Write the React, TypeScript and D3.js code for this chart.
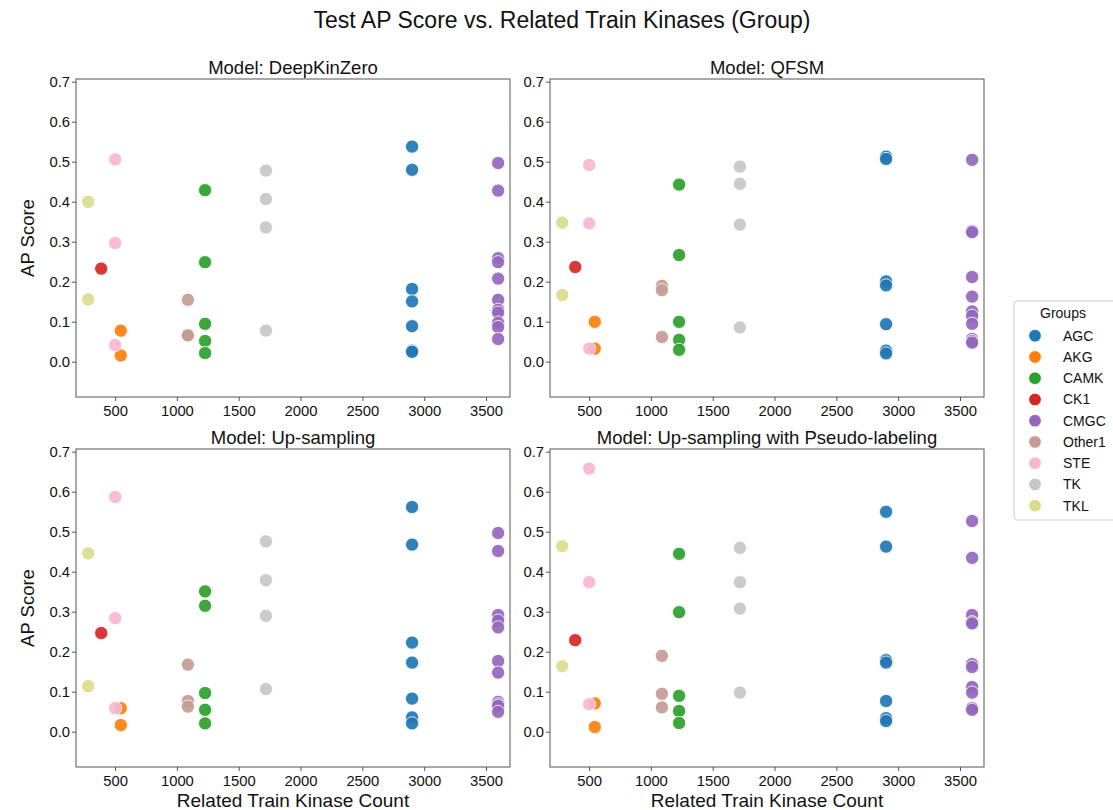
import React from "react";
import * as d3 from "d3";

// Kinase groups, their colours and the related train kinase count of each group
const groups = ["AGC", "AKG", "CAMK", "CK1", "CMGC", "Other1", "STE", "TK", "TKL"];
const groupColors = ["#1f77b4", "#ff7f0e", "#2ca02c", "#d62728", "#9467bd", "#c49c94", "#f7b6d2", "#c7c7c7", "#dbdb8d"];
const relatedCounts = [2898, 542, 1224, 384, 3594, 1085, 497, 1716, 279];

const models = ["DeepKinZero", "QFSM", "Up-sampling", "Up-sampling with Pseudo-labeling"];

// Test AP scores per group (same order as `groups`)
const deepKinZeroAP = [
  [0.539, 0.481, 0.183, 0.152, 0.09, 0.029, 0.026],
  [0.079, 0.017],
  [0.43, 0.25, 0.096, 0.053, 0.023],
  [0.234],
  [0.498, 0.429, 0.26, 0.25, 0.209, 0.156, 0.131, 0.124, 0.099, 0.088, 0.058],
  [0.156, 0.068, 0.067],
  [0.507, 0.298, 0.043],
  [0.479, 0.408, 0.337, 0.079],
  [0.401, 0.157],
];
const qfsmAP = [
  [0.514, 0.508, 0.202, 0.192, 0.095, 0.029, 0.022],
  [0.101, 0.034],
  [0.444, 0.268, 0.101, 0.056, 0.031],
  [0.238],
  [0.506, 0.328, 0.325, 0.213, 0.164, 0.127, 0.116, 0.096, 0.058, 0.053, 0.049],
  [0.191, 0.18, 0.063],
  [0.493, 0.347, 0.034],
  [0.489, 0.446, 0.344, 0.087],
  [0.349, 0.168],
];
const upSamplingAP = [
  [0.563, 0.469, 0.224, 0.174, 0.084, 0.037, 0.022],
  [0.06, 0.018],
  [0.352, 0.316, 0.098, 0.056, 0.022],
  [0.248],
  [0.498, 0.453, 0.293, 0.279, 0.262, 0.178, 0.149, 0.076, 0.07, 0.066, 0.051],
  [0.169, 0.078, 0.064],
  [0.588, 0.285, 0.06],
  [0.477, 0.38, 0.291, 0.108],
  [0.447, 0.115],
];
const pseudoLabelingAP = [
  [0.551, 0.464, 0.18, 0.174, 0.078, 0.035, 0.028],
  [0.072, 0.013],
  [0.446, 0.3, 0.091, 0.053, 0.023],
  [0.23],
  [0.528, 0.436, 0.293, 0.275, 0.272, 0.17, 0.163, 0.113, 0.099, 0.06, 0.056],
  [0.191, 0.096, 0.062],
  [0.659, 0.375, 0.07],
  [0.461, 0.375, 0.309, 0.099],
  [0.465, 0.165],
];
const modelScores = [deepKinZeroAP, qfsmAP, upSamplingAP, pseudoLabelingAP];

const xTicks = [500, 1000, 1500, 2000, 2500, 3000, 3500];
const yTicks = [0.0, 0.1, 0.2, 0.3, 0.4, 0.5, 0.6, 0.7];

const W = 1113;
const H = 810;
const FONT = "'Liberation Sans', Arial, Helvetica, sans-serif";
const panelW = 434;
const panelH = 318;
const panelLefts = [76, 550];
const panelTops = [79, 449];

const color = d3.scaleOrdinal<string, string>().domain(groups).range(groupColors);

function Panel({ idx }: { idx: number }) {
  const col = idx % 2;
  const row = Math.floor(idx / 2);
  const left = panelLefts[col];
  const top = panelTops[row];
  const x = d3.scaleLinear().domain([180, 3690]).range([left, left + panelW]);
  const y = d3.scaleLinear().domain([-0.087, 0.708]).range([top + panelH, top]);
  const scores = modelScores[idx];
  const points: { g: string; cx: number; cy: number }[] = [];
  groups.forEach((g, gi) => {
    scores[gi].forEach((v) => points.push({ g, cx: x(relatedCounts[gi]), cy: y(v) }));
  });
  const fmt = d3.format(".1f");
  return (
    <g>
      <text x={left + panelW / 2} y={top - 5} textAnchor="middle" fontSize={18.5} fill="#111">
        {`Model: ${models[idx]}`}
      </text>
      {points.map((p, i) => (
        <circle key={i} cx={p.cx} cy={p.cy} r={6.6} fill={color(p.g)} fillOpacity={0.92} stroke="#fff" strokeWidth={0.8} />
      ))}
      <rect x={left} y={top} width={panelW} height={panelH} fill="none" stroke="#555" strokeWidth={1} />
      {yTicks.map((t) => (
        <g key={t}>
          <line x1={left - 4} x2={left} y1={y(t)} y2={y(t)} stroke="#555" />
          <text x={left - 6} y={y(t)} dy="0.35em" textAnchor="end" fontSize={14.8} fill="#111">
            {fmt(t)}
          </text>
        </g>
      ))}
      {xTicks.map((t) => (
        <g key={t}>
          <line x1={x(t)} x2={x(t)} y1={top + panelH} y2={top + panelH + 4} stroke="#555" />
          <text x={x(t)} y={top + panelH + 19} textAnchor="middle" fontSize={14.8} fill="#111">
            {t}
          </text>
        </g>
      ))}
      {col === 0 && (
        <text
          transform={`translate(${left - 42},${top + panelH / 2}) rotate(-90)`}
          textAnchor="middle"
          fontSize={18.5}
          fill="#111"
        >
          AP Score
        </text>
      )}
      {row === 1 && (
        <text x={left + panelW / 2} y={H - 3} textAnchor="middle" fontSize={19} fill="#111">
          Related Train Kinase Count
        </text>
      )}
    </g>
  );
}

function Legend() {
  const lx = 1014;
  const ly = 301;
  const step = 21.25;
  return (
    <g>
      <rect x={lx} y={ly} width={110} height={219} rx={3} fill="#fff" stroke="#ccc" strokeWidth={1} />
      <text x={1063} y={313} dy="0.35em" textAnchor="middle" fontSize={14} fill="#111">
        Groups
      </text>
      {groups.map((g, i) => (
        <g key={g}>
          <circle cx={1035} cy={335.7 + i * step} r={6.3} fill={color(g)} stroke="#fff" strokeWidth={0.8} />
          <text x={1063} y={335.7 + i * step} dy="0.35em" fontSize={14} fill="#111">
            {g}
          </text>
        </g>
      ))}
    </g>
  );
}

export default function App() {
  return (
    <svg
      width={W}
      height={H}
      viewBox={`0 0 ${W} ${H}`}
      style={{ position: "absolute", left: 0, top: 0, background: "#fff" }}
      fontFamily={FONT}
    >
      <rect width={W} height={H} fill="#fff" />
      <text x={562} y={20} dy="0.35em" textAnchor="middle" fontSize={23} fill="#111">
        Test AP Score vs. Related Train Kinases (Group)
      </text>
      {[0, 1, 2, 3].map((i) => (
        <Panel key={i} idx={i} />
      ))}
      <Legend />
    </svg>
  );
}
